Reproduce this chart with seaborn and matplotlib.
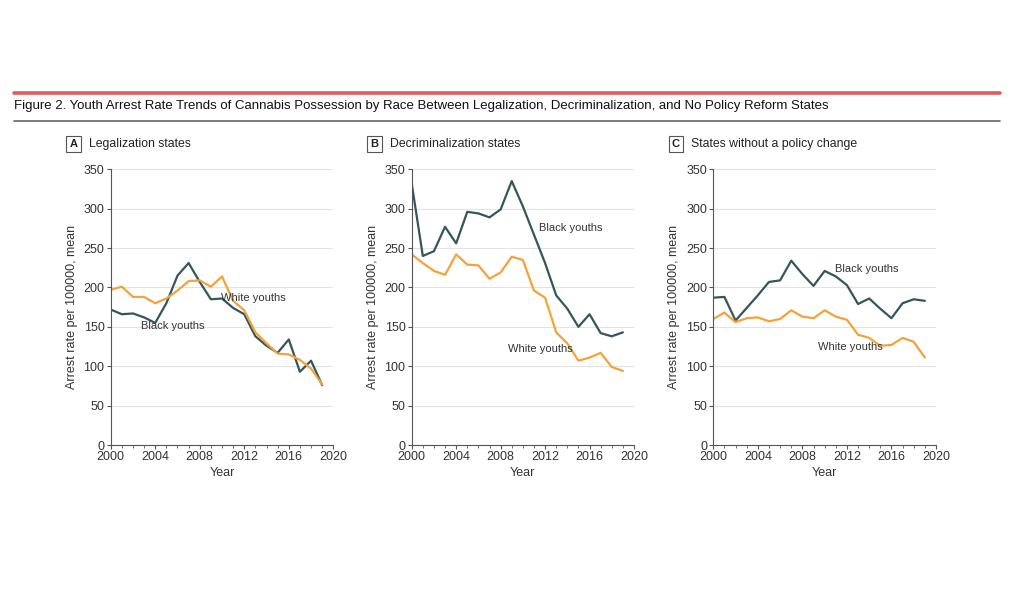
import pandas as pd
import seaborn as sns
import matplotlib.pyplot as plt
from matplotlib.lines import Line2D
from matplotlib.ticker import MultipleLocator

# ========== DATA ==========
years = list(range(2000, 2020))

legal_black = [172, 166, 167, 162, 155, 180, 215, 231, 207, 185,
               186, 174, 166, 138, 126, 117, 134, 93, 107, 76]
legal_white = [197, 201, 188, 188, 180, 186, 196, 208, 209, 201,
               214, 183, 171, 143, 129, 116, 115, 108, 97, 77]

decrim_black = [332, 240, 246, 277, 256, 296, 294, 289, 299, 335,
                303, 267, 231, 190, 173, 150, 166, 142, 138, 143]
decrim_white = [242, 231, 221, 216, 242, 229, 228, 211, 219, 239,
                235, 196, 187, 143, 129, 107, 111, 117, 99, 94]

none_black = [187, 188, 158, 174, 190, 207, 209, 234, 217, 202,
              221, 214, 203, 179, 186, 173, 161, 180, 185, 183]
none_white = [160, 168, 156, 161, 162, 157, 160, 171, 163, 161,
              171, 163, 159, 140, 136, 126, 127, 136, 131, 111]

panel_letters = ["A", "B", "C"]
panel_titles = ["Legalization states", "Decriminalization states",
                "States without a policy change"]
series_names = ["Black youths", "White youths"]

# in-plot label positions (data coords)
label_pos = [
    [(2005.6, 151), (2012.8, 186)],
    [(2014.3, 275), (2011.6, 122)],
    [(2013.8, 224), (2012.3, 124)],
]

BLACK_COL = "#33575c"
WHITE_COL = "#f2a33a"

# ========== STYLE ==========
sns.set_style("ticks")
plt.rcParams['font.family'] = ['Liberation Sans', 'DejaVu Sans']
plt.rcParams['axes.edgecolor'] = "#555555"
plt.rcParams['xtick.color'] = "#555555"
plt.rcParams['ytick.color'] = "#555555"
plt.rcParams['xtick.labelcolor'] = "#333333"
plt.rcParams['ytick.labelcolor'] = "#333333"

fig = plt.figure(figsize=(10.24, 5.94), dpi=100)

# header rules and title
fig.add_artist(Line2D([14 / 1024, 1000 / 1024], [1 - 93 / 594] * 2,
                      color="#e25b5b", lw=2.6))
fig.add_artist(Line2D([14 / 1024, 1000 / 1024], [1 - 121 / 594] * 2,
                      color="#666666", lw=1.2))
fig.text(14 / 1024, 1 - 106 / 594,
         "Figure 2. Youth Arrest Rate Trends of Cannabis Possession by Race Between "
         "Legalization, Decriminalization, and No Policy Reform States",
         fontsize=9.5, color="#111111", va="center", ha="left")

lefts = [110.7, 411.7, 713.3]
rights = [333.3, 634.0, 936.0]
bottom_px, top_px = 445.0, 169.3

all_data = [(legal_black, legal_white), (decrim_black, decrim_white),
            (none_black, none_white)]

for i, (black, white) in enumerate(all_data):
    l = lefts[i] / 1024
    w = (rights[i] - lefts[i]) / 1024
    b = 1 - bottom_px / 594
    h = (bottom_px - top_px) / 594
    ax = fig.add_axes([l, b, w, h])

    df = pd.DataFrame({
        "Year": years * 2,
        "Rate": black + white,
        "Group": [series_names[0]] * len(years) + [series_names[1]] * len(years),
    })
    sns.lineplot(data=df, x="Year", y="Rate", hue="Group",
                 palette=[BLACK_COL, WHITE_COL], hue_order=series_names,
                 linewidth=1.6, ax=ax, legend=False)

    ax.set_xlim(2000, 2020)
    ax.set_ylim(0, 350)
    ax.xaxis.set_major_locator(MultipleLocator(4))
    ax.xaxis.set_minor_locator(MultipleLocator(1))
    ax.yaxis.set_major_locator(MultipleLocator(50))
    ax.grid(axis="y", color="#e3e3e3", lw=0.8)
    ax.set_axisbelow(True)
    sns.despine(ax=ax)
    ax.spines["left"].set_linewidth(0.8)
    ax.spines["bottom"].set_linewidth(0.8)
    ax.tick_params(axis="both", which="major", labelsize=9, length=3, width=0.8, pad=1.5)
    ax.tick_params(axis="x", which="minor", length=2, width=0.6)
    ax.set_xlabel("Year", fontsize=9, color="#333333", labelpad=3)
    ax.set_ylabel("Arrest rate per 100000, mean", fontsize=9, color="#333333", labelpad=4)

    for (px, py), name in zip(label_pos[i], series_names):
        ax.text(px, py, name, fontsize=8, color="#333333", ha="center", va="center")

    # panel letter box and title
    ax.text(-0.168, 1.092, panel_letters[i], transform=ax.transAxes,
            fontsize=8, fontweight="bold", color="#222222", ha="center", va="center",
            bbox=dict(boxstyle="square,pad=0.3", fc="white", ec="#555555", lw=0.8))
    ax.text(-0.098, 1.092, panel_titles[i], transform=ax.transAxes,
            fontsize=8.8, color="#222222", ha="left", va="center")

fig.savefig("out.png", dpi=100)
